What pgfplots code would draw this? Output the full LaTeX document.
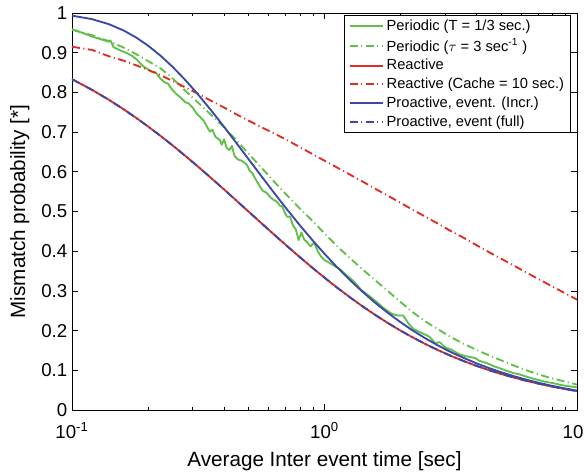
\documentclass[border=0pt]{standalone}
\usepackage{fontspec}
\setmainfont{Liberation Sans}
\usepackage{pgfplots}
\usepackage{pgfplotstable}
\pgfplotsset{compat=1.18}
\usetikzlibrary{calc}

\definecolor{mgreen}{RGB}{96,192,74}
\definecolor{mred}{RGB}{224,44,36}
\definecolor{mblue}{RGB}{60,72,168}

% T, reactive, proactive (incr), reactive cache 10, periodic tau=3
\pgfplotstableread{
T     react   proinc  cache   ptau
0.100 0.8333  0.9933  0.915   0.958
0.120 0.8065  0.9845  0.907   0.944
0.140 0.7813  0.9719  0.891   0.929
0.160 0.7576  0.9561  0.880   0.913
0.180 0.7353  0.9378  0.868   0.896
0.200 0.7143  0.9179  0.857   0.879
0.225 0.6897  0.8916  0.843   0.860
0.250 0.6667  0.8647  0.829   0.836
0.280 0.6410  0.8323  0.813   0.805
0.315 0.6135  0.7955  0.797   0.775
0.355 0.5848  0.7554  0.779   0.744
0.400 0.5556  0.7135  0.762   0.712
0.450 0.5263  0.6708  0.744   0.678
0.500 0.5000  0.6321  0.729   0.646
0.560 0.4717  0.5906  0.713   0.612
0.630 0.4425  0.5479  0.697   0.576
0.710 0.4132  0.5055  0.680   0.541
0.800 0.3846  0.4647  0.662   0.507
0.900 0.3571  0.4263  0.644   0.475
1.000 0.3333  0.3935  0.628   0.445
1.120 0.3086  0.3600  0.611   0.413
1.260 0.2841  0.3276  0.593   0.383
1.410 0.2618  0.2987  0.576   0.355
1.580 0.2404  0.2711  0.558   0.328
1.780 0.2193  0.2450  0.540   0.300
2.000 0.2000  0.2212  0.522   0.272
2.240 0.1825  0.1999  0.504   0.246
2.510 0.1661  0.1805  0.487   0.223
2.820 0.1506  0.1622  0.469   0.203
3.160 0.1366  0.1461  0.451   0.184
3.550 0.1235  0.1315  0.434   0.167
3.980 0.1116  0.1181  0.416   0.152
4.470 0.1006  0.1059  0.398   0.138
5.010 0.0907  0.0950  0.381   0.125
5.620 0.0817  0.0852  0.364   0.112
6.310 0.0734  0.0762  0.346   0.100
7.080 0.0660  0.0682  0.329   0.089
7.940 0.0592  0.0610  0.312   0.080
8.910 0.0531  0.0546  0.295   0.072
10.00 0.0476  0.0488  0.278   0.064
}\curves

% periodic T = 1/3 sec (simulated, noisy)
\pgfplotstableread{
T     p
0.100 0.959
0.110 0.950
0.121 0.940
0.130 0.934
0.139 0.928
0.142 0.931
0.146 0.914
0.155 0.906
0.165 0.899
0.173 0.892
0.181 0.882
0.191 0.866
0.200 0.858
0.207 0.852
0.215 0.850
0.223 0.836
0.232 0.826
0.240 0.822
0.250 0.806
0.260 0.795
0.268 0.788
0.280 0.776
0.290 0.772
0.302 0.760
0.312 0.746
0.322 0.738
0.333 0.728
0.345 0.710
0.352 0.701
0.360 0.706
0.370 0.688
0.385 0.680
0.392 0.668
0.400 0.682
0.410 0.660
0.420 0.655
0.430 0.665
0.440 0.640
0.454 0.631
0.470 0.628
0.494 0.617
0.505 0.603
0.516 0.598
0.535 0.580
0.555 0.563
0.570 0.552
0.590 0.547
0.610 0.536
0.626 0.530
0.650 0.524
0.665 0.515
0.680 0.513
0.695 0.498
0.710 0.487
0.730 0.487
0.750 0.465
0.770 0.455
0.790 0.428
0.810 0.447
0.830 0.430
0.860 0.420
0.880 0.412
0.910 0.422
0.940 0.400
0.970 0.386
1.000 0.378
1.050 0.370
1.100 0.362
1.150 0.355
1.220 0.340
1.300 0.325
1.400 0.302
1.500 0.288
1.610 0.272
1.720 0.256
1.850 0.242
1.950 0.238
2.050 0.238
2.150 0.218
2.250 0.204
2.390 0.196
2.500 0.190
2.600 0.185
2.750 0.168
2.860 0.171
3.000 0.158
3.200 0.151
3.400 0.141
3.600 0.136
3.800 0.133
3.950 0.131
4.100 0.124
4.400 0.118
4.700 0.110
5.000 0.104
5.300 0.098
5.600 0.093
5.900 0.090
6.300 0.084
6.700 0.079
7.100 0.075
7.500 0.071
8.000 0.068
8.500 0.064
9.000 0.061
9.500 0.059
10.00 0.057
}\periodic

\begin{document}
\begin{tikzpicture}
\begin{axis}[
  scale only axis,
  width=378.75pt, height=297.75pt,
  xmode=log,
  xmin=0.1, xmax=10,
  ymin=0, ymax=1,
  xtick={0.1,1,10},
  xticklabels={10\textsuperscript{-1},10\textsuperscript{0},10\textsuperscript{1}},
  ytick={0,0.1,0.2,0.3,0.4,0.5,0.6,0.7,0.8,0.9,1},
  yticklabels={0,0.1,0.2,0.3,0.4,0.5,0.6,0.7,0.8,0.9,1},
  tick align=inside,
  major tick length=4.5pt,
  minor tick length=2.5pt,
  axis line style={line width=0.6pt},
  every tick/.style={black, line width=0.5pt},
  tick label style={font=\fontsize{14}{16}\selectfont},
  xticklabel style={yshift=-6pt},
  label style={font=\fontsize{15.5}{17}\selectfont},
  xlabel={Average Inter event time [sec]},
  ylabel={Mismatch probability [*]},
  xlabel style={yshift=-2.5pt},
  ylabel style={yshift=2pt},
  legend cell align=left,
  legend style={at={(axis description cs:1,1)}, anchor=north east,
    xshift=-4.5pt, yshift=-1.5pt, draw=black, line width=0.5pt,
    font=\fontsize{11}{13}\selectfont, row sep=0.6pt,
    inner xsep=3pt, inner ysep=1.5pt},
  legend image code/.code={\draw[#1] (0pt,0pt) -- (25pt,0pt);},
  every axis plot/.append style={line width=1.4pt},
  dd/.style={dash pattern=on 6pt off 2.6pt on 0.8pt off 2.6pt},
]
\addplot[mgreen, line join=round] table[x=T, y=p] {\periodic};
\addplot[mgreen, dd] table[x=T, y=ptau] {\curves};
\addplot[mred] table[x=T, y=react] {\curves};
\addplot[mred, dd] table[x=T, y=cache] {\curves};
\addplot[mblue] table[x=T, y=proinc] {\curves};
\addplot[mblue, dd] table[x=T, y=react] {\curves};
\legend{Periodic (T = 1/3 sec.),
  Periodic ($\tau$ = 3 sec\textsuperscript{-1} ),
  Reactive,
  Reactive (Cache = 10 sec.),
  {Proactive, event. (Incr.)},
  {Proactive, event (full)}}
\end{axis}
\pgfresetboundingbox
\path ($(current axis.south west)+(-54pt,-46.5pt)$) rectangle ($(current axis.north east)+(5.25pt,9.75pt)$);
\end{tikzpicture}
\end{document}
